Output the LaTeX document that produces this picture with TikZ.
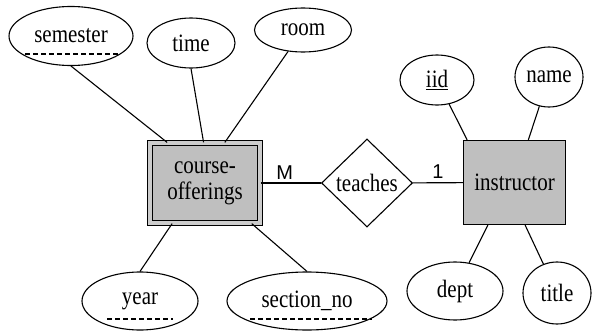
\documentclass[tikz,border=0pt]{standalone}
\usepackage{fontspec}
\setmainfont{Liberation Serif}[FakeStretch=0.84]
\newfontfamily\cardfont{Liberation Sans}
\usetikzlibrary{shapes.geometric,positioning}

\begin{document}
\begin{tikzpicture}[x=1pt, y=-1pt,
    attr/.style={draw, ellipse, inner sep=0pt, line width=1.1pt, font=\fontsize{25}{28}\selectfont},
    entity/.style={draw, fill=gray!50, line width=1.3pt, inner sep=0pt, align=center, font=\fontsize{25}{26}\selectfont},
    weak/.style={entity, double=gray!40, double distance=4pt, line width=1.2pt},
    rel/.style={draw, diamond, inner sep=0pt, line width=1.1pt, font=\fontsize{25}{28}\selectfont},
    link/.style={line width=1.1pt},
    keyline/.style={line width=1.1pt, dash pattern=on 5pt off 3pt},
    card/.style={font=\cardfont\fontsize{20}{22}\selectfont}
]
\useasboundingbox (0,0) rectangle (592,332);

\node[weak, minimum width=110, minimum height=80] (offerings) at (205,183) {course-\\offerings};
\node[rel, minimum width=91, minimum height=88] (teaches) at (367,183) {teaches};
\node[entity, minimum width=102, minimum height=84] (instructor) at (514.5,182.5) {instructor};

\node[attr, minimum width=124, minimum height=59] (semester) at (71,36)  {semester};
\node[attr, minimum width=88,  minimum height=50] (time)     at (191,43) {time};
\node[attr, minimum width=97,  minimum height=44] (room)     at (303,30) {room};
\node[attr, minimum width=116, minimum height=58] (year)     at (140,301){year};
\node[attr, minimum width=160, minimum height=58] (secno)    at (307,301){section\_no};

\node[attr, minimum width=74, minimum height=50] (iid)   at (437,80)  {\underline{iid}};
\node[attr, minimum width=68, minimum height=60] (name)  at (549,77)  {name};
\node[attr, minimum width=96, minimum height=58] (dept)  at (455,291) {dept};
\node[attr, minimum width=68, minimum height=62] (title) at (557,293) {title};

% partial keys
\draw[keyline] ([shift={(-46,18)}]semester.center) -- ++(93,0);
\draw[keyline] ([shift={(-33,18)}]year.center) -- ++(66,0);
\draw[keyline] ([shift={(-57,18)}]secno.center) -- ++(122,0);

\draw[link] (semester.south) -- (offerings.133);
\draw[link] (time.south)     -- (offerings.92);
\draw[link] (room)           -- (offerings.64);
\draw[link] (year.north)     -- (offerings.231);
\draw[link] (secno.north)    -- (offerings.319);

\draw[link] (offerings) -- (teaches) node[card, pos=0.4, above] {M};
\draw[link] (teaches) -- (instructor) node[card, midway, above] {1};

\draw[link] (iid)   -- (instructor.138);
\draw[link] (name)  -- (instructor.72);
\draw[link] (dept)  -- (instructor.238);
\draw[link] (title) -- (instructor.284);
\end{tikzpicture}
\end{document}
